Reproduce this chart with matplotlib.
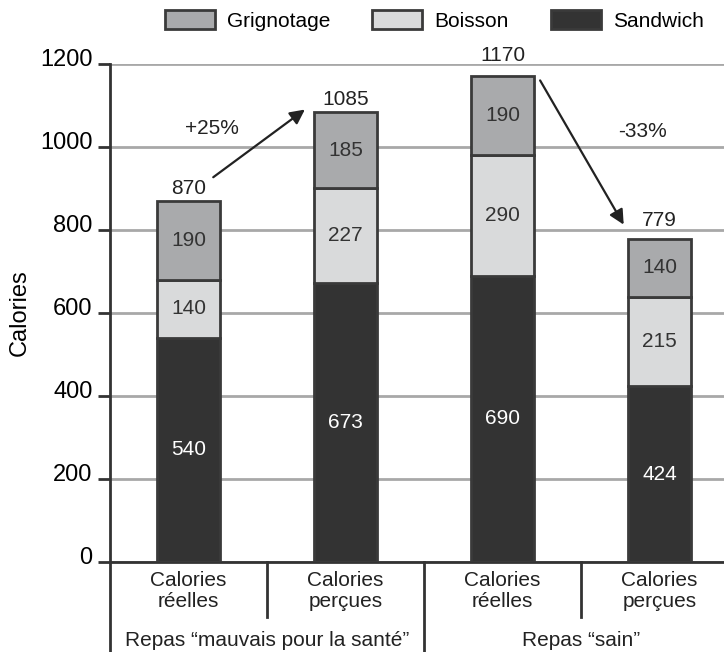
import matplotlib
matplotlib.use("Agg")
import matplotlib.pyplot as plt
import matplotlib.transforms as mtransforms
from matplotlib.patches import Patch

plt.rcParams['font.family'] = ['Liberation Sans', 'DejaVu Sans']

# Données : calories par repas (réelles vs perçues)
categories = ['Calories\nréelles', 'Calories\nperçues', 'Calories\nréelles', 'Calories\nperçues']
groupes = ['Repas \u201cmauvais pour la santé\u201d', 'Repas \u201csain\u201d']
sandwich = [540, 673, 690, 424]
boisson = [140, 227, 290, 215]
grignotage = [190, 185, 190, 140]
totaux = [870, 1085, 1170, 779]
variations = ['+25%', '-33%']

c_sand = '#333333'
c_bois = '#d9dadb'
c_grig = '#a9aaac'
c_bord = '#3a3a3a'
c_txt = '#222222'

fig = plt.figure(figsize=(7.24, 6.52), dpi=100)
ax = fig.add_axes([0.152, 0.138, 0.848, 0.764])

x = list(range(len(categories)))
bas2 = [s + b for s, b in zip(sandwich, boisson)]

b1 = ax.bar(x, sandwich, width=0.4, color=c_sand, edgecolor=c_bord, linewidth=2, zorder=3)
b2 = ax.bar(x, boisson, width=0.4, bottom=sandwich, color=c_bois, edgecolor=c_bord, linewidth=2, zorder=3)
b3 = ax.bar(x, grignotage, width=0.4, bottom=bas2, color=c_grig, edgecolor=c_bord, linewidth=2, zorder=3)

ax.bar_label(b1, labels=[str(v) for v in sandwich], label_type='center', color='white', fontsize=15)
ax.bar_label(b2, labels=[str(v) for v in boisson], label_type='center', color='#333333', fontsize=15)
ax.bar_label(b3, labels=[str(v) for v in grignotage], label_type='center', color='#333333', fontsize=15)

# totaux au-dessus des barres (écart en points)
ecarts = [2, 2, 8, 6]
for i, t in enumerate(totaux):
    ax.annotate(str(t), xy=(i, t), xytext=(0, ecarts[i]), textcoords='offset points',
                ha='center', va='bottom', fontsize=15, color=c_txt, annotation_clip=False)

# flèches de variation
ax.annotate('', xy=(0.755, 1094), xytext=(0.143, 923),
            arrowprops=dict(arrowstyle='-|>', color=c_txt, lw=1.6, mutation_scale=22))
ax.annotate('', xy=(2.78, 807), xytext=(2.23, 1166),
            arrowprops=dict(arrowstyle='-|>', color=c_txt, lw=1.6, mutation_scale=22))
ax.text(0.15, 1045, variations[0], ha='center', va='center', fontsize=15, color=c_txt)
ax.text(2.89, 1038, variations[1], ha='center', va='center', fontsize=15, color=c_txt)

ax.set_ylim(0, 1200)
ax.set_xlim(-0.5, 3.41)
ax.set_yticks(range(0, 1201, 200))
ax.tick_params(axis='y', direction='out', length=8.5, width=2, color='#333333', labelsize=17, pad=4)
decale = mtransforms.ScaledTranslation(0, 4.5 / 72, fig.dpi_scale_trans)
for lab in ax.get_yticklabels():
    lab.set_transform(lab.get_transform() + decale)
ax.set_xticks([])
ax.yaxis.grid(True, color='#a8a8a8', linewidth=2, zorder=0)
ax.set_axisbelow(True)
for s in ['top', 'right', 'left']:
    ax.spines[s].set_visible(False)
ax.spines['bottom'].set_linewidth(2)
ax.spines['bottom'].set_color('#333333')
ax.set_ylabel('Calories', fontsize=17, labelpad=7)

# axe des x en deux niveaux
trans = mtransforms.blended_transform_factory(ax.transData, ax.transAxes)
ax.plot([-0.5, -0.5], [1.0, -0.2], transform=trans, color='#333333', lw=2, clip_on=False)
ax.plot([1.5, 1.5], [0, -0.2], transform=trans, color='#333333', lw=2, clip_on=False)
for xs in [0.5, 2.5]:
    ax.plot([xs, xs], [0, -0.11], transform=trans, color='#333333', lw=2, clip_on=False)
for i, c in enumerate(categories):
    ax.text(i, -0.058, c, transform=trans, ha='center', va='center', fontsize=15,
            color=c_txt, linespacing=1.1)
ax.text(0.5, -0.157, groupes[0], transform=trans, ha='center', va='center', fontsize=15, color=c_txt)
ax.text(2.5, -0.157, groupes[1], transform=trans, ha='center', va='center', fontsize=15, color=c_txt)

poignees = [Patch(facecolor=c_grig, edgecolor=c_bord, linewidth=2, label='Grignotage'),
            Patch(facecolor=c_bois, edgecolor=c_bord, linewidth=2, label='Boisson'),
            Patch(facecolor=c_sand, edgecolor=c_bord, linewidth=2, label='Sandwich')]
fig.legend(handles=poignees, loc='center', bbox_to_anchor=(0.6, 0.969), ncol=3, frameon=False,
           fontsize=15, handlelength=2.4, handleheight=1.05, handletextpad=0.6, columnspacing=2.0)

fig.savefig('out.png', dpi=100)
